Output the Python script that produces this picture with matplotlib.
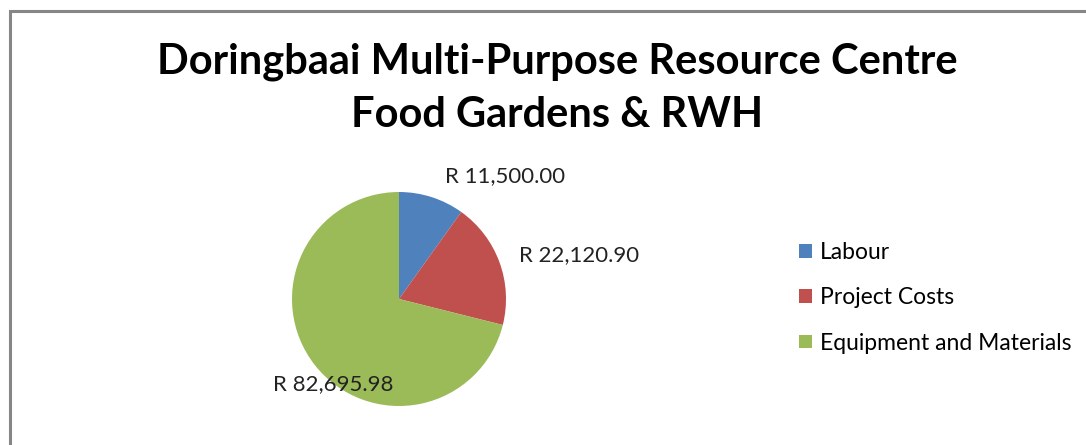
import matplotlib.pyplot as plt
from matplotlib.patches import Rectangle, Patch

# Data
categories = ["Labour", "Project Costs", "Equipment and Materials"]
costs = [11500.00, 22120.90, 82695.98]
colors = ["#4F81BD", "#C0504D", "#9BBB59"]

W, H = 1086, 445
fig = plt.figure(figsize=(W / 100, H / 100), dpi=100)
plt.rcParams['font.family'] = ['Lato', 'DejaVu Sans']

# chart border (runs off the right and bottom edges)
fig.patches.append(Rectangle((10 / W, -0.1), 1.2, (H - 11) / H + 0.1,
                             transform=fig.transFigure, fill=False,
                             edgecolor="#868686", linewidth=2.2))

fig.text(557 / W, 1 - 62 / H, "Doringbaai Multi-Purpose Resource Centre",
         ha="center", va="center", fontsize=30, fontweight="bold")
fig.text(557 / W, 1 - 115 / H, "Food Gardens & RWH",
         ha="center", va="center", fontsize=30, fontweight="bold")

# pie axes: centre (399, 299) px, radius 107 px
cx, cy, r = 399, 299, 107
ax = fig.add_axes([(cx - r) / W, (H - cy - r) / H, 2 * r / W, 2 * r / H])
ax.pie(costs, colors=colors, startangle=90, counterclock=False,
       wedgeprops=dict(linewidth=0))
ax.set_xlim(-1, 1)
ax.set_ylim(-1, 1)
ax.set_aspect("equal")
ax.axis("off")

# value labels
label_pos = [(505, 176), (579, 255), (333, 384)]
for v, (x, y) in zip(costs, label_pos):
    fig.text(x / W, 1 - y / H, f"R {v:,.2f}", ha="center", va="center",
             fontsize=16, color="#222222")

handles = [Patch(facecolor=c, edgecolor="none") for c in colors]
fig.legend(handles, categories, loc="center left",
           bbox_to_anchor=(799 / W, 1 - 298 / H), frameon=False,
           fontsize=16.5, handlelength=0.55, handleheight=0.55,
           handletextpad=0.35, labelspacing=1.05, borderpad=0,
           borderaxespad=0)

fig.savefig("out.png", dpi=100)
